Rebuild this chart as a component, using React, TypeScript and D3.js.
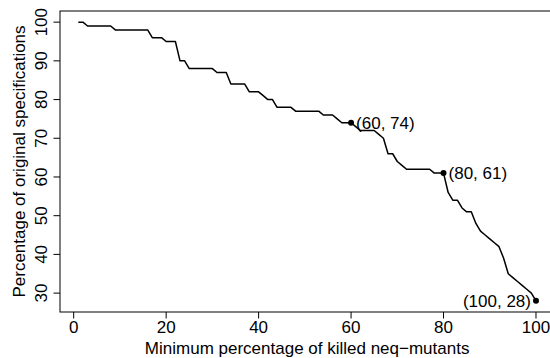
import React from "react";
import * as d3 from "d3";

// percentage of original specifications kept, for minimum killed % = 1..100
const specsKept = [
  100, 100, 99, 99, 99, 99, 99, 99, 98, 98,
  98, 98, 98, 98, 98, 98, 96, 96, 96, 95,
  95, 95, 90, 90, 88, 88, 88, 88, 88, 88,
  87, 87, 87, 84, 84, 84, 84, 82, 82, 82,
  81, 80, 80, 78, 78, 78, 78, 77, 77, 77,
  77, 77, 77, 76, 76, 76, 75, 74, 74, 74,
  73, 72, 72, 72, 72, 71, 70, 66, 66, 64,
  63, 62, 62, 62, 62, 62, 62, 61, 61, 61,
  56, 54, 54, 52, 51, 51, 48, 46, 45, 44,
  43, 42, 39, 35, 34, 33, 32, 31, 30, 28,
];

const xTicks = [0, 20, 40, 60, 80, 100];
const yTicks = [30, 40, 50, 60, 70, 80, 90, 100];

const highlights = [
  { x: 60, y: 74, label: "(60, 74)", side: "right" },
  { x: 80, y: 61, label: "(80, 61)", side: "right" },
  { x: 100, y: 28, label: "(100, 28)", side: "left" },
];

const width = 550;
const height = 358;
const box = { left: 60, right: 554.3, top: 11, bottom: 312 };
const font = "'Liberation Sans', Arial, Helvetica, sans-serif";

const App: React.FC = () => {
  const points = specsKept.map((v, i) => ({ x: i + 1, y: v }));

  const xScale = d3.scaleLinear().domain([-2.96, 103.96]).range([box.left, box.right]);
  const yScale = d3.scaleLinear().domain([25.12, 102.88]).range([box.bottom, box.top]);

  const line = d3
    .line<{ x: number; y: number }>()
    .x((d) => xScale(d.x))
    .y((d) => yScale(d.y));

  return (
    <svg
      width={width}
      height={height}
      style={{ position: "absolute", left: 0, top: 0, background: "#fff" }}
      fontFamily={font}
      fontSize={17}
    >
      {/* plot box */}
      <rect
        x={box.left}
        y={box.top}
        width={box.right - box.left}
        height={box.bottom - box.top}
        fill="none"
        stroke="#000"
        strokeWidth={1}
      />

      {/* x axis */}
      {xTicks.map((t) => (
        <g key={"x" + t}>
          <line x1={xScale(t)} x2={xScale(t)} y1={box.bottom} y2={box.bottom + 6.5} stroke="#000" />
          <text x={xScale(t)} y={333.3} textAnchor="middle" fill="#000">
            {t}
          </text>
        </g>
      ))}
      <text x={(box.left + box.right) / 2} y={354} textAnchor="middle" fill="#000">
        Minimum percentage of killed neq−mutants
      </text>

      {/* y axis */}
      {yTicks.map((t) => (
        <g key={"y" + t}>
          <line x1={box.left - 6.5} x2={box.left} y1={yScale(t)} y2={yScale(t)} stroke="#000" />
          <text
            transform={`translate(46.7,${yScale(t)}) rotate(-90)`}
            textAnchor="middle"
            fill="#000"
          >
            {t}
          </text>
        </g>
      ))}
      <text
        transform={`translate(25,${(box.top + box.bottom) / 2}) rotate(-90)`}
        textAnchor="middle"
        fill="#000"
      >
        Percentage of original specifications
      </text>

      {/* curve */}
      <path d={line(points) ?? ""} fill="none" stroke="#000" strokeWidth={1.5} strokeLinejoin="round" />

      {/* highlighted points */}
      {highlights.map((h) => (
        <g key={h.label}>
          <circle cx={xScale(h.x)} cy={yScale(h.y)} r={3} fill="#000" />
          <text
            x={h.side === "right" ? xScale(h.x) + 5 : xScale(h.x) - 5}
            y={yScale(h.y)}
            dy="0.35em"
            textAnchor={h.side === "right" ? "start" : "end"}
            fill="#000"
          >
            {h.label}
          </text>
        </g>
      ))}
    </svg>
  );
};

export default App;
